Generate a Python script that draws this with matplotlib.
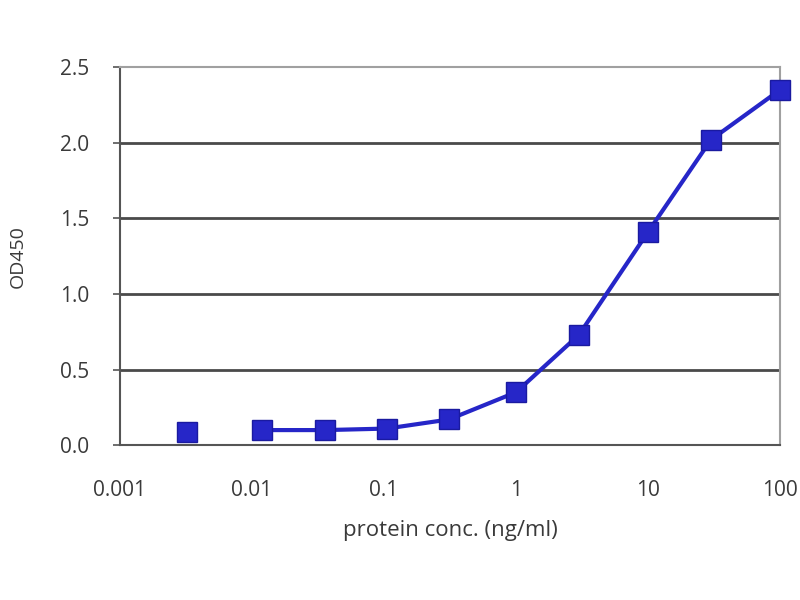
import matplotlib
matplotlib.use("Agg")
import matplotlib.pyplot as plt
from matplotlib.ticker import FixedLocator, FixedFormatter

# concentrations (ng/ml) and OD450 readings
conc = [0.0032, 0.012, 0.036, 0.105, 0.31, 1, 3, 10, 30, 100]
od450 = [0.09, 0.10, 0.10, 0.11, 0.17, 0.35, 0.73, 1.41, 2.02, 2.35]

x_ticks = [0.001, 0.01, 0.1, 1, 10, 100]
x_labels = ["0.001", "0.01", "0.1", "1", "10", "100"]
y_ticks = [0.0, 0.5, 1.0, 1.5, 2.0, 2.5]
y_labels = ["0.0", "0.5", "1.0", "1.5", "2.0", "2.5"]

plt.rcParams['font.family'] = ['Open Sans', 'DejaVu Sans']

fig = plt.figure(figsize=(8, 6), dpi=100)
ax = fig.add_axes([0.15, 0.258, 0.825, 0.63])

blue = "#2626c8"
text_col = "#3a3a3a"

# first point is shown on its own, the rest form the curve
ax.plot(conc[1:], od450[1:], color=blue, linewidth=3, zorder=3)
ax.plot(conc, od450, linestyle="none", marker="s", markersize=14,
        color=blue, markeredgecolor="#1a1aa0", zorder=4, clip_on=False)

ax.set_xscale("log")
ax.set_xlim(0.001, 100)
ax.set_ylim(0, 2.5)

ax.xaxis.set_major_locator(FixedLocator(x_ticks))
ax.xaxis.set_major_formatter(FixedFormatter(x_labels))
ax.xaxis.set_minor_locator(FixedLocator([]))
ax.yaxis.set_major_locator(FixedLocator(y_ticks))
ax.yaxis.set_major_formatter(FixedFormatter(y_labels))

for y in y_ticks[1:-1]:
    ax.axhline(y, color="#4a4a4a", linewidth=2, zorder=1)

ax.spines["top"].set_color("#a0a0a0")
ax.spines["right"].set_color("#a0a0a0")
ax.spines["left"].set_color("#555555")
ax.spines["bottom"].set_color("#555555")
for s in ax.spines.values():
    s.set_linewidth(1.5)

ax.tick_params(axis="y", direction="out", length=5, width=1.2, color="#555555",
               labelsize=15, labelcolor=text_col, pad=17)
ax.tick_params(axis="x", length=0, labelsize=15, labelcolor=text_col, pad=25)

ax.set_xlabel("protein conc. (ng/ml)", fontsize=16, color=text_col, labelpad=14)
ax.set_ylabel("OD450", fontsize=14, color=text_col, labelpad=24)

fig.savefig("out.png", dpi=100)
